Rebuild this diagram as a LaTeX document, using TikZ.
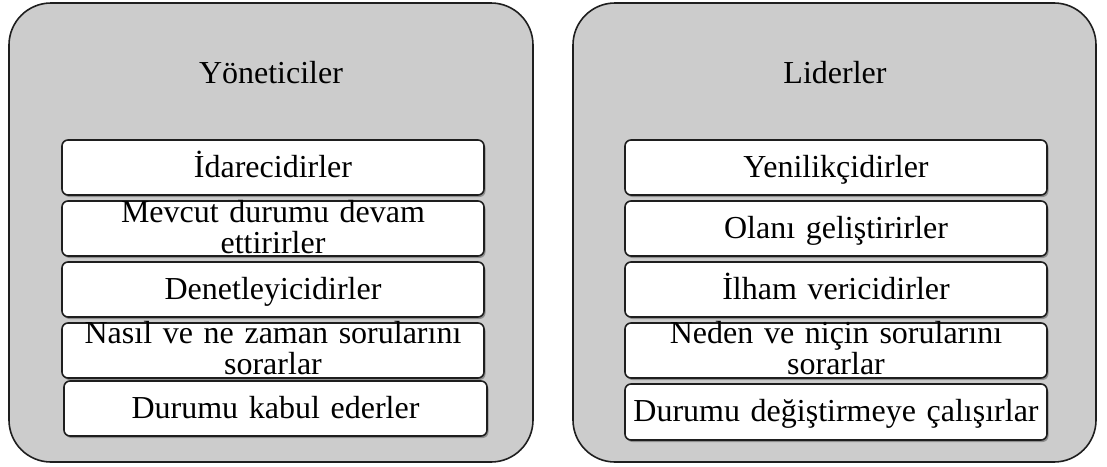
\documentclass[tikz,border=0pt]{standalone}
\usepackage{fontspec}
\setmainfont{Liberation Serif}
\usetikzlibrary{shadows}
\definecolor{panelgray}{RGB}{204,204,204}
\definecolor{edgeblack}{RGB}{30,30,30}
\begin{document}
\begin{tikzpicture}[x=1pt,y=-1pt,
  panel/.style={draw=edgeblack, line width=1.6pt, fill=panelgray,
    rounded corners=42pt, inner sep=0pt, outer sep=0pt},
  itembox/.style={draw=edgeblack, line width=1.6pt, fill=white,
    rounded corners=6pt, inner sep=0pt, outer sep=0pt,
    minimum height=55pt,
    drop shadow={shadow xshift=1.5pt, shadow yshift=-2pt, opacity=0.3, fill=black}},
  caption/.style={font=\fontsize{32pt}{31.5pt}\selectfont, anchor=base, inner sep=0pt},
  itemtext/.style={font=\fontsize{32pt}{31.5pt}\selectfont, anchor=base, inner sep=0pt,
    text width=420pt, align=center}]

\useasboundingbox (0,0) rectangle (1107,466);

% the two panels
\node[panel, minimum width=524pt, minimum height=459pt] (lp) at (271,232.5) {};
\node[panel, minimum width=523pt, minimum height=459pt] (rp) at (834.5,232.5) {};

% panel headings
\node[caption] (lt) at (271,83) {Yöneticiler};
\node[caption] (rt) at (835,83) {Liderler};

% left column of boxes
\node[itembox, minimum width=422pt] (l1) at (273,167.5) {};
\node[itembox, minimum width=422pt] (l2) at (273,228.5) {};
\node[itembox, minimum width=422pt] (l3) at (273,289.5) {};
\node[itembox, minimum width=422pt] (l4) at (273,350.5) {};
\node[itembox, minimum width=423pt] (l5) at (275.5,408.5) {};

\node[itemtext] (l1t) at ([yshift=-9.5pt]l1.center) {İdarecidirler};
\node[itemtext] (l2t) at ([yshift=6.5pt]l2.center) {Mevcut durumu devam\\ettirirler};
\node[itemtext] (l3t) at ([yshift=-9.5pt]l3.center) {Denetleyicidirler};
\node[itemtext] (l4t) at ([yshift=7.5pt]l4.center) {Nasıl ve ne zaman sorularını\\sorarlar};
\node[itemtext] (l5t) at ([yshift=-9.5pt]l5.center) {Durumu kabul ederler};

% right column of boxes
\node[itembox, minimum width=422pt] (r1) at (836,167.5) {};
\node[itembox, minimum width=422pt] (r2) at (836,228.5) {};
\node[itembox, minimum width=422pt] (r3) at (836,289.5) {};
\node[itembox, minimum width=422pt] (r4) at (836,350.5) {};
\node[itembox, minimum width=422pt, minimum height=56pt] (r5) at (836,412) {};

\node[itemtext] (r1t) at ([yshift=-9.5pt]r1.center) {Yenilikçidirler};
\node[itemtext] (r2t) at ([yshift=-9.5pt]r2.center) {Olanı geliştirirler};
\node[itemtext] (r3t) at ([yshift=-9.5pt]r3.center) {İlham vericidirler};
\node[itemtext] (r4t) at ([yshift=7.5pt]r4.center) {Neden ve niçin sorularını\\sorarlar};
\node[itemtext] (r5t) at ([yshift=-9.5pt]r5.center) {Durumu değiştirmeye çalışırlar};
\end{tikzpicture}
\end{document}
